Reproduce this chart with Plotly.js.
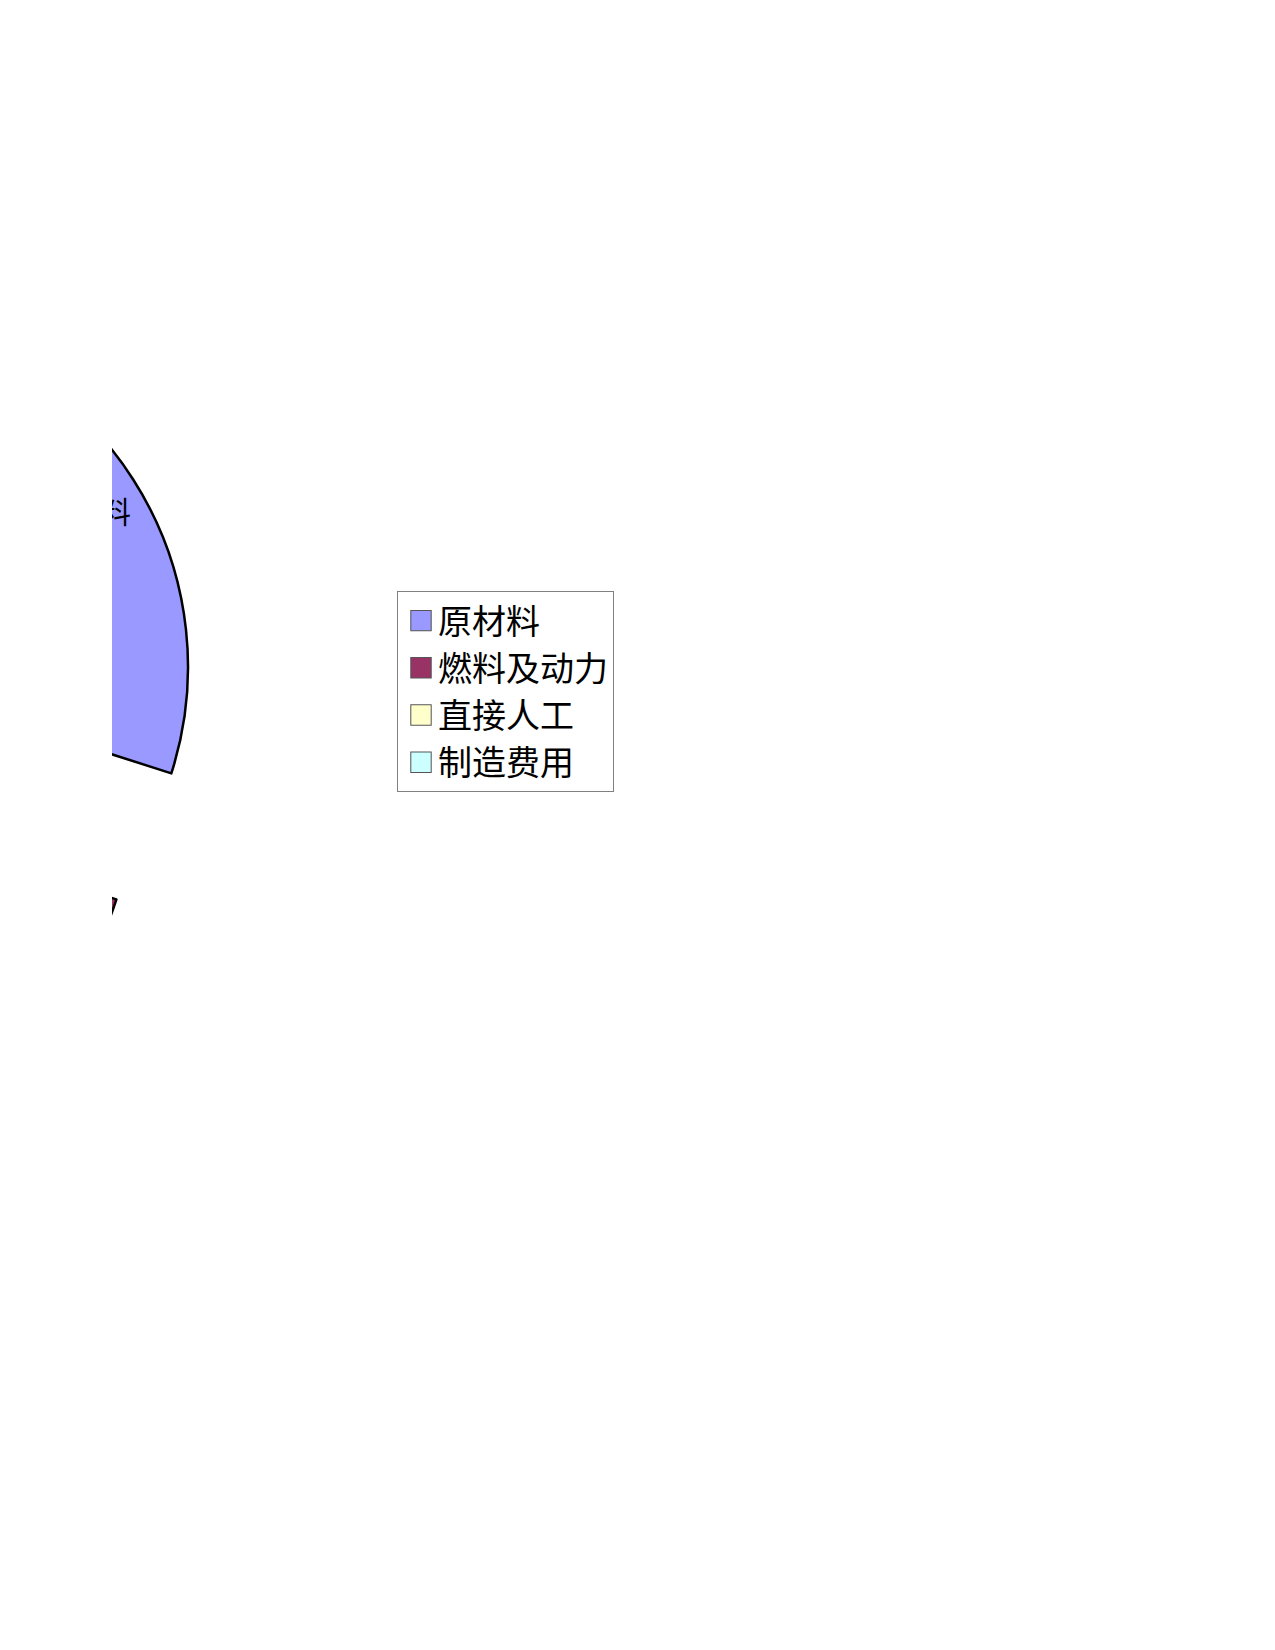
<!DOCTYPE html>
<html>
<head>
<meta charset="utf-8">
<script src="https://cdn.plot.ly/plotly-3.0.1.min.js"></script>
<style>
  html, body { margin: 0; padding: 0; background: #ffffff; }
  #clip { position: absolute; left: 112px; top: 0; width: 1163px; height: 1650px; overflow: hidden; background: #ffffff; }
  #chart { position: absolute; left: -758px; top: 0; width: 1921px; height: 1650px; }
</style>
</head>
<body>
<div id="clip"><div id="chart"></div></div>
<script>
// ---- data ----
var categories = ['原材料', '燃料及动力', '直接人工', '制造费用'];
var shares = [28.0, 53.2, 8.8, 10.0];          // percent of total cost
var pulls = [0, 0.395, 0, 0];                   // exploded slice
var sliceColors = ['#9999FF', '#993366', '#FFFFCC', '#CCFFFF'];

// ---- layout geometry (page pixels) ----
var W = 1921, H = 1650;      // chart div size
var divLeft = -646;          // chart div left edge on the page
var pieCx = -160, pieCy = 667, pieR = 348;
var rotationDeg = 7;

var boxSide = 2 * pieR * (1 + Math.max.apply(null, pulls));
var dom = {
  x: [(pieCx - divLeft - boxSide / 2) / W, (pieCx - divLeft + boxSide / 2) / W],
  y: [(H - pieCy - boxSide / 2) / H, (H - pieCy + boxSide / 2) / H]
};

// label of the first slice, placed along its mid angle
var total = shares.reduce(function (a, b) { return a + b; }, 0);
var midDeg = rotationDeg + 360 * shares[0] / total / 2;
var labR = 0.84 * pieR;
var labX = pieCx + labR * Math.sin(midDeg * Math.PI / 180);
var labY = pieCy - labR * Math.cos(midDeg * Math.PI / 180);

var trace = {
  type: 'pie',
  labels: categories,
  values: shares,
  pull: pulls,
  sort: false,
  direction: 'clockwise',
  rotation: rotationDeg,
  domain: dom,
  textinfo: 'none',
  hoverinfo: 'label+percent',
  marker: { colors: sliceColors, line: { color: '#000000', width: 2.5 } }
};

var layout = {
  width: W, height: H,
  margin: { l: 0, r: 0, t: 0, b: 0 },
  paper_bgcolor: '#ffffff',
  showlegend: true,
  legend: {
    x: (397 - divLeft) / W, xanchor: 'left',
    y: (H - 591) / H, yanchor: 'top',
    bgcolor: '#ffffff', bordercolor: '#808080', borderwidth: 1,
    font: { family: 'Noto Sans CJK SC, sans-serif', size: 34, color: '#000000' }
  },
  annotations: [{
    xref: 'paper', yref: 'paper',
    x: (labX - divLeft) / W, y: (H - labY) / H,
    xanchor: 'center', yanchor: 'middle',
    text: categories[0], showarrow: false,
    font: { family: 'Noto Sans CJK SC, sans-serif', size: 30, color: '#000000' }
  }]
};

Plotly.newPlot('chart', [trace], layout, { staticPlot: true }).then(function () {
  document.querySelectorAll('#chart .legend .legendpoints path').forEach(function (p) {
    var t = p.getAttribute('transform') || '';
    p.setAttribute('transform', 'translate(3,0) ' + t + ' scale(1.7)');
    p.style.stroke = '#555555';
    p.style.strokeWidth = '0.6px';
  });
});
</script>
</body>
</html>
